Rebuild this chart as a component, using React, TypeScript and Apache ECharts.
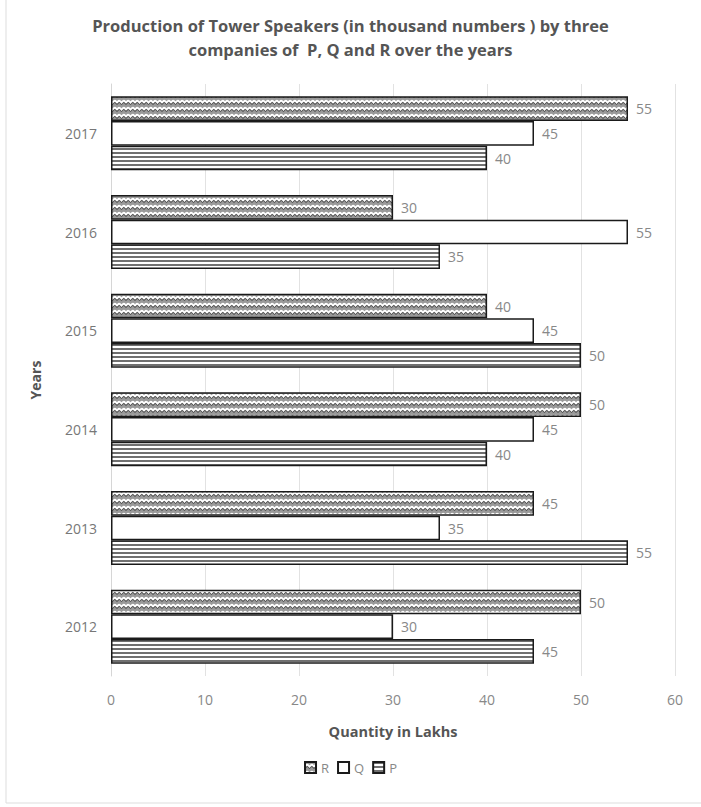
import React, { useEffect, useRef } from "react";
import * as echarts from "echarts";

const years = ["2012", "2013", "2014", "2015", "2016", "2017"];
const pValues = [45, 55, 40, 50, 35, 40];
const qValues = [30, 35, 45, 45, 55, 45];
const rValues = [50, 45, 50, 40, 30, 55];
const xTicks = [0, 10, 20, 30, 40, 50, 60];

function stripeCanvas() {
  const c = document.createElement("canvas");
  c.width = 8;
  c.height = 4;
  const ctx = c.getContext("2d")!;
  ctx.fillStyle = "#ffffff";
  ctx.fillRect(0, 0, 8, 4);
  ctx.fillStyle = "#707070";
  ctx.fillRect(0, 0, 8, 2);
  return c;
}

function waveCanvas() {
  const c = document.createElement("canvas");
  c.width = 9;
  c.height = 7;
  const ctx = c.getContext("2d")!;
  ctx.fillStyle = "#9a9a9a";
  ctx.fillRect(0, 0, 9, 7);
  ctx.strokeStyle = "#ffffff";
  ctx.lineWidth = 1.8;
  ctx.beginPath();
  ctx.moveTo(0, 5);
  ctx.quadraticCurveTo(2.25, 0.5, 4.5, 5);
  ctx.quadraticCurveTo(6.75, 0.5, 9, 5);
  ctx.stroke();
  ctx.strokeStyle = "#4a4a4a";
  ctx.lineWidth = 1;
  ctx.beginPath();
  ctx.moveTo(0, 6.8);
  ctx.quadraticCurveTo(2.25, 2.3, 4.5, 6.8);
  ctx.quadraticCurveTo(6.75, 2.3, 9, 6.8);
  ctx.stroke();
  return c;
}

export default function App() {
  const ref = useRef<HTMLDivElement>(null);
  useEffect(() => {
    if (!ref.current) return;
    const chart = echarts.init(ref.current, null, { renderer: "svg" });
    const stripes = { image: stripeCanvas(), repeat: "repeat" } as any;
    const waves = { image: waveCanvas(), repeat: "repeat" } as any;
    const font = "'Open Sans', 'Liberation Sans', sans-serif";
    const label = {
      show: true,
      position: "right",
      distance: 8,
      color: "#888",
      fontSize: 14,
      fontFamily: font,
    };
    const common = { type: "bar", barGap: "0%", barCategoryGap: "25%", label };
    chart.setOption({
      animation: false,
      backgroundColor: "#ffffff",
      textStyle: { fontFamily: font },
      title: {
        text: "Production of Tower Speakers (in thousand numbers ) by three\ncompanies of  P, Q and R over the years",
        left: "center",
        top: 8,
        textStyle: {
          fontSize: 16.5,
          fontWeight: "bold",
          color: "#555",
          lineHeight: 24,
          fontFamily: font,
        },
      },
      graphic: [
        {
          type: "rect",
          shape: { x: 6, y: -2, width: 700, height: 805 },
          style: { fill: "none", stroke: "#dddddd", lineWidth: 1 },
          silent: true,
        },
      ],
      legend: {
        bottom: 28,
        left: "center",
        data: ["R", "Q", "P"],
        icon: "rect",
        itemWidth: 11,
        itemHeight: 11,
        itemGap: 8,
        textStyle: { color: "#888", fontSize: 13, fontFamily: font },
      },
      grid: { left: 111, right: 26, top: 84, bottom: 131 },
      xAxis: {
        type: "value",
        min: xTicks[0],
        max: xTicks[xTicks.length - 1],
        interval: 10,
        name: "Quantity in Lakhs",
        nameLocation: "middle",
        nameGap: 48,
        nameTextStyle: { fontWeight: "bold", color: "#555", fontSize: 14.5 },
        axisLine: { show: false },
        axisTick: { show: false },
        axisLabel: { color: "#888", fontSize: 14, margin: 16 },
        splitLine: { show: true, lineStyle: { color: "#e2e2e2", width: 1 } },
      },
      yAxis: {
        type: "category",
        data: years,
        name: "Years",
        nameLocation: "middle",
        nameGap: 69,
        nameRotate: 90,
        nameTextStyle: { fontWeight: "bold", color: "#555", fontSize: 14 },
        axisLine: { show: true, lineStyle: { color: "#d6d6d6" } },
        axisTick: { show: false },
        axisLabel: { color: "#777", fontSize: 14, margin: 14 },
      },
      series: [
        {
          ...common,
          name: "R",
          data: rValues,
          itemStyle: { color: waves, borderColor: "#1a1a1a", borderWidth: 1.5 },
        },
        {
          ...common,
          name: "Q",
          data: qValues,
          itemStyle: { color: "#ffffff", borderColor: "#1a1a1a", borderWidth: 1.5 },
        },
        {
          ...common,
          name: "P",
          data: pValues,
          itemStyle: { color: stripes, borderColor: "#1a1a1a", borderWidth: 1.5 },
        },
      ],
    });
    return () => chart.dispose();
  }, []);
  return (
    <div
      ref={ref}
      style={{ position: "absolute", left: 0, top: 0, width: 701, height: 807 }}
    />
  );
}
